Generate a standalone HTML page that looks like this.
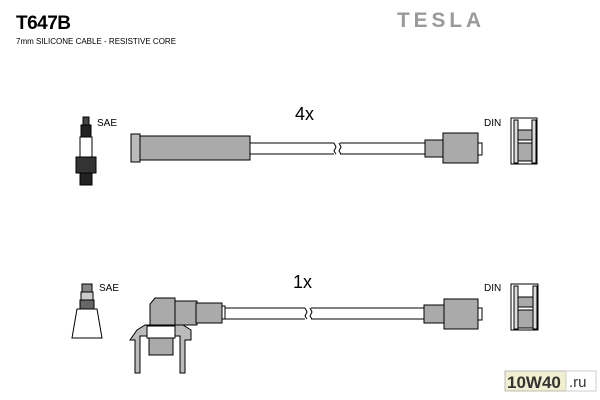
<!DOCTYPE html>
<html><head><meta charset="utf-8"><style>
body{margin:0;background:#fff;width:600px;height:400px;overflow:hidden}
svg{display:block}
text{font-family:"Liberation Sans",sans-serif}
</style></head><body>
<svg width="600" height="400" viewBox="0 0 600 400" xmlns="http://www.w3.org/2000/svg">
<text x="16" y="29" font-size="19" font-weight="bold" fill="#000" letter-spacing="-0.5">T647B</text>
<text x="16" y="44" font-size="8" fill="#000">7mm SILICONE CABLE - RESISTIVE CORE</text>
<text x="397" y="27" font-size="21" font-weight="bold" fill="#9a9a9a" font-family="Liberation Serif" letter-spacing="4" textLength="88" lengthAdjust="spacingAndGlyphs">TESLA</text>

<!-- Top row -->
<g stroke="#000" stroke-width="1">
 <rect x="83" y="117" width="6" height="8" fill="#444"/>
 <rect x="81" y="125" width="10" height="12" fill="#222"/>
 <rect x="80" y="137" width="12" height="20" fill="#fff"/>
 <rect x="76" y="157" width="20" height="16" fill="#333"/>
 <rect x="80" y="173" width="12" height="12" fill="#222"/>
 <rect x="131" y="134" width="9" height="28" fill="#bbb"/>
 <rect x="140" y="136" width="110" height="24" fill="#aaa"/>
 <line x1="250" y1="143" x2="425" y2="143"/>
 <line x1="250" y1="154" x2="425" y2="154"/>
 <rect x="334" y="141" width="6" height="15" fill="#fff" stroke="none"/>
 <path d="M334 143 l2 4 -2 4 2 3 M339 143 l2 4 -2 4 2 3" fill="none"/>
 <rect x="425" y="140" width="18" height="17" fill="#aaa"/>
 <rect x="443" y="133" width="35" height="30" fill="#aaa"/>
 <rect x="478" y="143" width="4" height="12" fill="#fff"/>
 <rect x="511" y="118" width="26" height="46" fill="#fff"/>
 <rect x="514" y="120" width="4" height="43" fill="#ddd"/>
 <rect x="532" y="120" width="4" height="43" fill="#ddd"/>
 <rect x="518" y="130" width="14" height="10" fill="#aaa"/>
 <rect x="518" y="143" width="14" height="18" fill="#aaa"/>
</g>
<text x="97" y="126" font-size="10">SAE</text>
<text x="295" y="120" font-size="18">4x</text>
<text x="484" y="126" font-size="10">DIN</text>

<!-- Bottom row -->
<g stroke="#000" stroke-width="1">
 <rect x="82" y="284" width="10" height="8" fill="#888"/>
 <rect x="81" y="292" width="12" height="8" fill="#ccc"/>
 <rect x="80" y="300" width="14" height="9" fill="#666"/>
 <path d="M77 309 L97 309 L102 338 L72 338 Z" fill="#fff"/>
 <path d="M155 298 L175 298 L175 326 L150 326 L150 304 Z" fill="#aaa"/>
 <rect x="175" y="301" width="22" height="24" fill="#aaa"/>
 <rect x="196" y="303" width="26" height="20" fill="#aaa"/>
 <rect x="222" y="306" width="3" height="13" fill="#fff"/>
 <path d="M137 330 L145 325 L183 325 L191 330 L191 340 L185 340 L185 373 L180 373 L180 336 L140 336 L140 373 L135 373 L135 340 L130 340 Z" fill="#bbb"/>
 <rect x="147" y="326" width="28" height="12" fill="#fff"/>
 <rect x="149" y="338" width="24" height="17" fill="#aaa"/>
 <line x1="225" y1="308" x2="424" y2="308"/>
 <line x1="225" y1="319" x2="424" y2="319"/>
 <rect x="305" y="306" width="6" height="15" fill="#fff" stroke="none"/>
 <path d="M305 308 l2 4 -2 4 2 3 M310 308 l2 4 -2 4 2 3" fill="none"/>
 <rect x="424" y="305" width="20" height="18" fill="#aaa"/>
 <rect x="444" y="299" width="34" height="30" fill="#aaa"/>
 <rect x="478" y="308" width="4" height="12" fill="#fff"/>
 <rect x="511" y="284" width="27" height="46" fill="#fff"/>
 <rect x="514" y="286" width="4" height="43" fill="#ddd"/>
 <rect x="533" y="286" width="4" height="43" fill="#ddd"/>
 <rect x="518" y="297" width="15" height="10" fill="#aaa"/>
 <rect x="518" y="310" width="15" height="18" fill="#aaa"/>
</g>
<text x="99" y="291" font-size="10">SAE</text>
<text x="293" y="288" font-size="18">1x</text>
<text x="484" y="291" font-size="10">DIN</text>

<rect x="505" y="371" width="61" height="20" fill="#f0efcf" stroke="#bbb"/>
<text x="507" y="388" font-size="17" font-weight="bold" fill="#333">10W40</text>
<rect x="566" y="371" width="30" height="20" fill="#fff" stroke="#ccc"/>
<text x="569" y="387" font-size="15" fill="#333">.ru</text>
</svg>
</body></html>
